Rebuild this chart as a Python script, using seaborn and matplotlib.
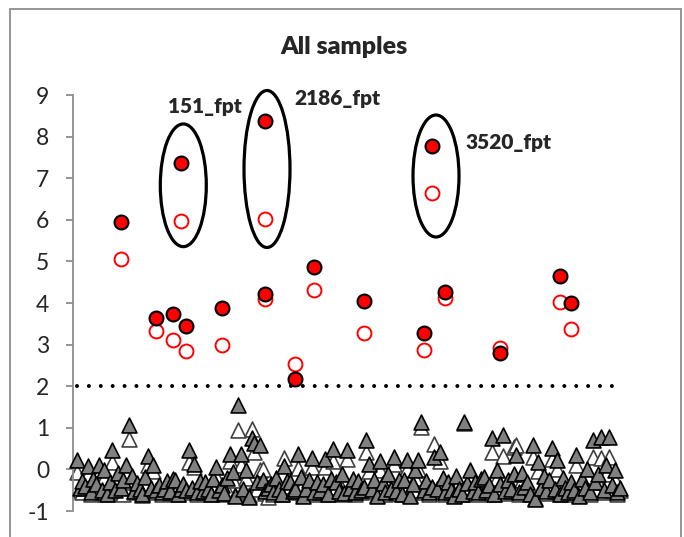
import numpy as np
import pandas as pd
import matplotlib
matplotlib.use("Agg")
import matplotlib.pyplot as plt
from matplotlib.patches import Ellipse, Rectangle
import seaborn as sns

# ---- data -------------------------------------------------------------
# background samples (triangles): filled = replicate A, open = replicate B
tri_idx = list(range(1, 201))
tri_filled = [
    0.22, -0.45, -0.28, -0.40, 0.08, -0.55, -0.22, -0.35, 0.10, -0.50,
    -0.02, -0.58, -0.30, 0.46, -0.50, -0.08, -0.44, -0.26, 0.11, 1.07,
    -0.15, -0.52, -0.32, -0.47, -0.60, -0.18, 0.32, -0.45, 0.10, -0.50,
    -0.38, -0.55, -0.46, -0.29, -0.52, -0.22, -0.26, -0.58, -0.48, -0.36,
    -0.50, 0.46, -0.44, 0.14, -0.55, -0.28, -0.52, -0.30, -0.47, -0.58,
    -0.24, 0.06, -0.50, -0.38, -0.56, -0.20, 0.36, -0.06, -0.63, 1.54,
    0.36, -0.48, -0.02, -0.66, 0.75, 0.63, -0.30, 0.58, -0.25, -0.52,
    -0.45, -0.35, -0.55, -0.20, -0.48, -0.58, 0.08, -0.28, -0.30, -0.52,
    -0.46, 0.36, -0.18, -0.63, -0.48, -0.25, 0.27, -0.55, -0.30, -0.50,
    -0.35, 0.26, -0.58, -0.24, 0.50, -0.30, -0.52, -0.12, -0.56, 0.47,
    -0.45, -0.22, -0.55, -0.28, -0.50, -0.43, 0.71, 0.14, -0.48, -0.25,
    -0.63, 0.19, -0.32, -0.55, -0.10, -0.47, 0.30, -0.52, -0.25, -0.58,
    -0.25, 0.22, -0.63, -0.35, -0.02, 0.22, 1.15, -0.50, -0.28, -0.55,
    -0.42, 0.30, -0.48, 0.42, -0.20, -0.55, -0.30, -0.50, -0.63, -0.15,
    -0.47, -0.58, 1.15, -0.32, -0.02, -0.52, -0.30, -0.55, -0.22, -0.18,
    -0.50, -0.38, 0.75, -0.58, -0.02, -0.34, 0.82, -0.52, -0.25, -0.48,
    -0.10, 0.34, -0.55, -0.08, -0.42, -0.30, -0.58, 0.58, -0.70, 0.18,
    -0.45, -0.15, -0.52, -0.25, 0.51, -0.48, 0.22, -0.58, -0.20, -0.45,
    -0.55, -0.30, -0.50, 0.34, -0.63, -0.22, -0.45, 0.02, -0.55, 0.70,
    -0.30, -0.12, 0.78, -0.50, 0.10, 0.78, -0.38, -0.02, -0.55, -0.45,
]
tri_open = [
    -0.06, -0.50, -0.55, -0.45, -0.10, -0.58, -0.50, -0.42, -0.05, -0.55,
    -0.20, -0.60, -0.48, 0.18, -0.55, -0.25, -0.50, -0.58, -0.10, 0.72,
    -0.30, -0.55, -0.45, -0.52, -0.62, -0.32, 0.10, -0.50, -0.05, -0.55,
    -0.45, -0.58, -0.50, -0.40, -0.56, -0.48, -0.38, -0.60, -0.52, -0.45,
    -0.55, 0.18, -0.50, 0.05, -0.58, -0.46, -0.55, -0.40, -0.52, -0.60,
    -0.48, -0.15, -0.54, -0.45, -0.60, -0.50, 0.20, -0.25, -0.62, 0.94,
    0.10, -0.52, -0.20, -0.62, 0.98, 0.42, -0.48, -0.02, 0.02, -0.56,
    -0.66, -0.45, -0.58, -0.35, -0.52, -0.60, 0.27, -0.48, -0.40, -0.55,
    -0.50, 0.03, -0.45, -0.60, -0.52, -0.38, 0.05, -0.58, -0.46, -0.55,
    -0.45, 0.05, -0.60, -0.50, 0.20, -0.42, -0.56, -0.48, -0.60, 0.25,
    -0.50, -0.35, -0.58, -0.45, -0.55, -0.50, 0.43, -0.05, -0.52, -0.45,
    -0.62, -0.02, -0.50, -0.58, -0.42, -0.52, 0.12, -0.56, -0.48, -0.60,
    -0.38, 0.00, -0.62, -0.50, -0.20, 0.02, 1.02, -0.55, -0.46, -0.58,
    -0.50, 0.62, -0.52, 0.20, -0.35, -0.58, -0.48, -0.55, -0.62, -0.45,
    -0.52, -0.60, 1.12, -0.50, -0.22, -0.56, -0.42, -0.58, -0.50, -0.30,
    -0.55, -0.48, 0.42, -0.60, -0.20, -0.50, 0.32, -0.56, -0.38, -0.52,
    0.54, 0.58, -0.58, -0.25, -0.50, -0.42, -0.60, 0.30, -0.68, -0.05,
    -0.50, -0.30, -0.56, -0.45, 0.25, -0.52, 0.00, -0.60, -0.35, -0.50,
    -0.58, -0.42, -0.55, 0.10, -0.62, -0.38, -0.50, -0.15, -0.58, 0.30,
    -0.48, -0.30, 0.28, -0.55, -0.12, 0.30, -0.50, -0.26, -0.58, -0.50,
]

# highlighted samples (red circles)
hit_idx = [17, 30, 36, 39, 41, 54, 70, 70, 81, 88, 106, 128, 131, 136, 156, 178, 182]
hit_filled = [5.94, 3.65, 3.73, 7.37, 3.45, 3.89, 8.37, 4.22, 2.18, 4.86,
              4.04, 3.27, 7.78, 4.26, 2.80, 4.64, 3.99]
hit_open = [5.05, 3.32, 3.10, 5.97, 2.84, 3.00, 6.01, 4.10, 2.54, 4.32,
            3.29, 2.87, 6.65, 4.13, 2.92, 4.03, 3.38]

threshold_x = [1, 200]
threshold_y = [2, 2]

labels = ["151_fpt", "2186_fpt", "3520_fpt"]

yticks = [-1, 0, 1, 2, 3, 4, 5, 6, 7, 8, 9]

# ---- figure ------------------------------------------------------------
sns.set_style("white")
plt.rcParams["font.family"] = ["Lato", "DejaVu Sans"]

W, H = 684, 537
fig = plt.figure(figsize=(W / 100, H / 100), dpi=100)

ax_left, ax_right = 73, 660
ax_top, ax_bot = 95, 511
ax = fig.add_axes([ax_left / W, (H - ax_bot) / H,
                   (ax_right - ax_left) / W, (ax_bot - ax_top) / H])

# outer chart border
fig.patches.append(Rectangle((10 / W, -0.05), (681 - 10) / W, (H - 9) / H + 0.05,
                             transform=fig.transFigure, fill=False,
                             edgecolor="#8c8c8c", linewidth=1.3))

tri_df = pd.DataFrame({"x": tri_idx, "filled": tri_filled, "open": tri_open})
hit_df = pd.DataFrame({"x": hit_idx, "filled": hit_filled, "open": hit_open})
thr_df = pd.DataFrame({"x": threshold_x, "y": threshold_y})

# threshold dotted line
sns.lineplot(data=thr_df, x="x", y="y", ax=ax, color="black", linewidth=2.9,
             linestyle=(0, (0.001, 2.95)), zorder=1)
for ln in ax.lines:
    ln.set_dash_capstyle("round")

# triangles
sns.scatterplot(data=tri_df, x="x", y="open", ax=ax, marker="^", s=115,
                facecolor="white", edgecolor="#404040", linewidth=1.2,
                zorder=2, clip_on=False)
sns.scatterplot(data=tri_df, x="x", y="filled", ax=ax, marker="^", s=115,
                facecolor="#808080", edgecolor="black", linewidth=1.2,
                zorder=3, clip_on=False)

# red circles
sns.scatterplot(data=hit_df, x="x", y="open", ax=ax, marker="o", s=100,
                facecolor="white", edgecolor="#ff0000", linewidth=1.4,
                zorder=4)
sns.scatterplot(data=hit_df, x="x", y="filled", ax=ax, marker="o", s=100,
                facecolor="#ff0000", edgecolor="black", linewidth=1.5,
                zorder=5)

# axes
px_per_x = (620 - 77) / 199
x0 = 1 - (77 - ax_left) / px_per_x
ax.set_xlim(x0, x0 + (ax_right - ax_left) / px_per_x)
ax.set_ylim(-1, 9)
ax.set_yticks(yticks)
ax.set_yticklabels([str(t) for t in yticks], fontsize=16.5)
ax.set_xticks([])
ax.set_xlabel("")
ax.set_ylabel("")
for side in ["top", "right", "bottom"]:
    ax.spines[side].set_visible(False)
ax.spines["left"].set_color("#8c8c8c")
ax.spines["left"].set_linewidth(1.3)
ax.tick_params(axis="y", direction="out", length=5, width=1.3,
               color="#8c8c8c", pad=12, left=True)

# ellipses around highlighted samples
ppy = (ax_bot - ax_top) / 10.0
ell = [
    (183.3, 185.3, 46, 122.7),
    (267.0, 169.0, 46, 157.0),
    (436.0, 176.0, 46, 122.0),
]
for cx, cy, w, h in ell:
    xc = x0 + (cx - ax_left) / px_per_x
    yc = 9 - (cy - ax_top) / ppy
    ax.add_patch(Ellipse((xc, yc), w / px_per_x, h / ppy, fill=False,
                         edgecolor="black", linewidth=2.3, zorder=6,
                         clip_on=False))

# labels
lab_pos = [(204.5, 106), (337, 98), (508, 142)]
for txt, (lx, ly) in zip(labels, lab_pos):
    ax.text(x0 + (lx - ax_left) / px_per_x, 9 - (ly - ax_top) / ppy, txt,
            ha="center", va="center", fontsize=15, fontweight="heavy", zorder=7)

fig.text(344 / W, 1 - 47 / H, "All samples", ha="center", va="center",
         fontsize=18, fontweight="heavy")

fig.savefig("out.png", dpi=100)
